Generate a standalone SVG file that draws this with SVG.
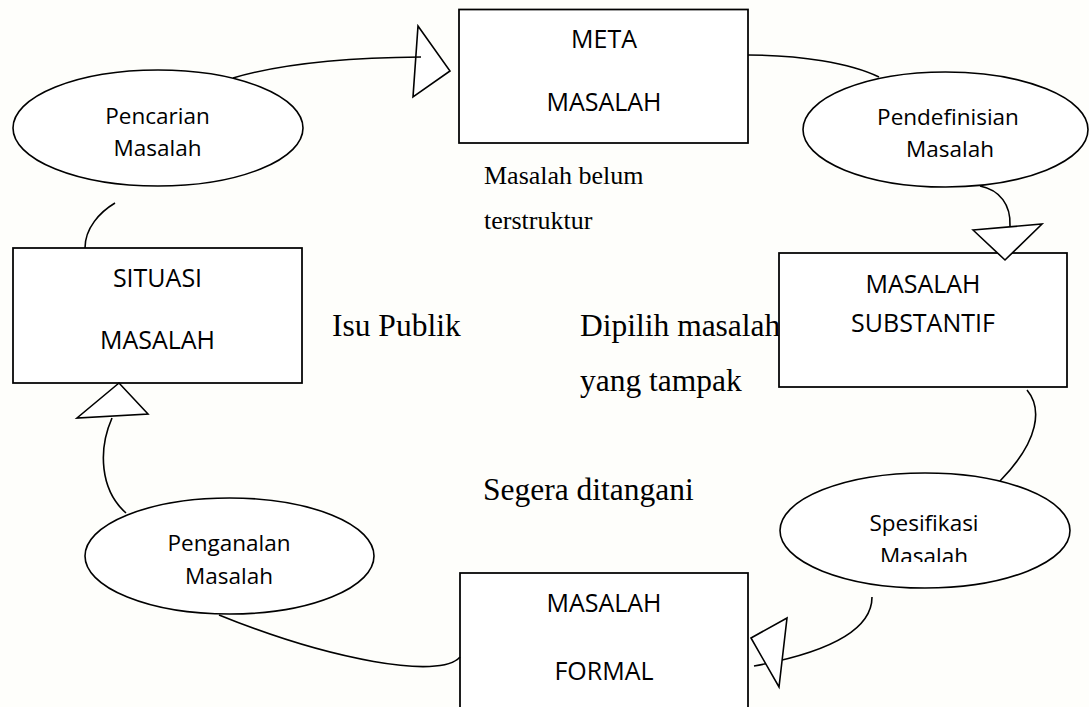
<svg xmlns="http://www.w3.org/2000/svg" width="1089" height="707" viewBox="0 0 1089 707">
<style>
.box{fill:#ffffff;stroke:#000000;stroke-width:1.75}
.ell{fill:#ffffff;stroke:#000000;stroke-width:1.6}
.ln{fill:none;stroke:#000000;stroke-width:1.6}
.tri{fill:#ffffff;stroke:#000000;stroke-width:1.6;stroke-linejoin:miter}
.bt{font-family:"Open Sans","Noto Sans",sans-serif;font-size:25px;fill:#000000;text-anchor:middle}
.et{font-family:"Open Sans","Noto Sans",sans-serif;font-size:22.5px;fill:#000000;text-anchor:middle}
.tl{font-family:"Liberation Serif","Times New Roman",serif;font-size:31.5px;fill:#000000}
.ts{font-family:"Liberation Serif","Times New Roman",serif;font-size:26px;fill:#000000}
</style>
<defs>
<clipPath id="clipSpes"><rect x="780" y="470" width="292" height="92"/></clipPath>
</defs>
<rect x="0" y="0" width="1089" height="707" fill="#fefefb"/>
<g id="labels">
<text class="ts" x="484" y="184">Masalah belum</text>
<text class="ts" x="484" y="229">terstruktur</text>
<text class="tl" x="332" y="336">Isu Publik</text>
<text class="tl" x="580" y="336">Dipilih masalah</text>
<text class="tl" x="580" y="391">yang tampak</text>
<text class="tl" x="483" y="500">Segera ditangani</text>
</g>
<g id="meta-masalah">
<rect class="box" x="459" y="9.5" width="289" height="133.5"/>
<text class="bt" x="604" y="48">META</text>
<text class="bt" x="604" y="111">MASALAH</text>
</g>
<g id="situasi-masalah">
<rect class="box" x="13" y="248" width="289" height="135"/>
<text class="bt" x="157.5" y="287">SITUASI</text>
<text class="bt" x="157.5" y="349">MASALAH</text>
</g>
<g id="masalah-substantif">
<rect class="box" x="779" y="253" width="288" height="134"/>
<text class="bt" x="923" y="293">MASALAH</text>
<text class="bt" x="923" y="332">SUBSTANTIF</text>
</g>
<g id="masalah-formal">
<rect class="box" x="460" y="573" width="288" height="140"/>
<text class="bt" x="604" y="612">MASALAH</text>
<text class="bt" x="604" y="680">FORMAL</text>
</g>
<g id="pencarian-masalah">
<ellipse class="ell" cx="158" cy="128" rx="145" ry="58"/>
<text class="et" x="157.5" y="124">Pencarian</text>
<text class="et" x="157.5" y="156">Masalah</text>
</g>
<g id="pendefinisian-masalah">
<ellipse class="ell" cx="945.5" cy="129.5" rx="142.5" ry="57.5"/>
<text class="et" x="948" y="125">Pendefinisian</text>
<text class="et" x="950" y="157">Masalah</text>
</g>
<g id="spesifikasi-masalah">
<ellipse class="ell" cx="925" cy="530.5" rx="145" ry="57.5"/>
<text class="et" x="924" y="531">Spesifikasi</text>
<text class="et" x="924" y="564" clip-path="url(#clipSpes)">Masalah</text>
</g>
<g id="penganalan-masalah">
<ellipse class="ell" cx="229.5" cy="556" rx="144.5" ry="58"/>
<text class="et" x="229" y="551">Penganalan</text>
<text class="et" x="229" y="584">Masalah</text>
</g>
<g id="connectors">
<polygon class="tri" points="418,26 450,71 413,97"/>
<path class="ln" d="M233,78 Q300,58 421,57"/>
<path class="ln" d="M748,55 C800,55 850,63 879,77"/>
<path class="ln" d="M980,186 C1000,190 1011,205 1010,226"/>
<polygon class="tri" points="973,230 1042,224 1005,260"/>
<path class="ln" d="M1027,390 C1042,408 1040,440 1000,481"/>
<path class="ln" d="M872,597 C872,630 830,652 754,666"/>
<polygon class="tri" points="751,638 787,618 779,687"/>
<path class="ln" d="M219,615 C330,660 440,680 460,657"/>
<path class="ln" d="M126,513 C100,490 98,450 112,418"/>
<polygon class="tri" points="119,383 77,418 148,414"/>
<path class="ln" d="M85,248 C85,228 100,212 115,203"/>
</g>
</svg>
